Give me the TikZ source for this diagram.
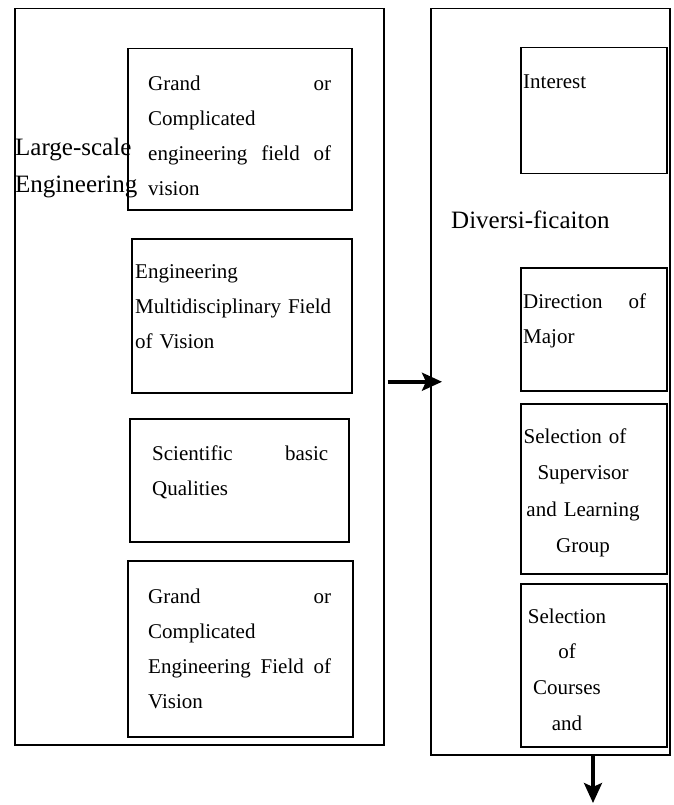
\documentclass[tikz,border=0pt]{standalone}
\usepackage{fontspec}
\setmainfont{Liberation Serif}
\usetikzlibrary{arrows.meta}

\begin{document}
\begin{tikzpicture}[x=1pt, y=-1pt,
    box/.style={draw, line width=1.5pt, anchor=north west, inner sep=0pt},
    txt/.style={anchor=base west, inner sep=0pt, align=left, font=\fontsize{21}{35}\selectfont},
    big/.style={anchor=base west, inner sep=0pt, align=left, font=\fontsize{25}{37}\selectfont},
    arr/.style={line width=3.5pt, -{Stealth[length=20pt, width=18pt, inset=4pt]}}]
    \useasboundingbox (0,0) rectangle (673,805);
    \node[box, minimum width=369pt, minimum height=736pt] (large) at (14,8) {};
    \node[box, minimum width=224pt, minimum height=161pt] (grand) at (127,48) {};
    \node[box, minimum width=220pt, minimum height=154pt] (multi) at (131,238) {};
    \node[box, minimum width=219pt, minimum height=123pt] (basic) at (129,418) {};
    \node[box, minimum width=225pt, minimum height=176pt] (grandtwo) at (127,560) {};
    \node[box, minimum width=239pt, minimum height=746pt] (divers) at (430,8) {};
    \node[box, minimum width=146pt, minimum height=126pt] (interest) at (520,47) {};
    \node[box, minimum width=146pt, minimum height=123pt] (direction) at (520,267) {};
    \node[box, minimum width=146pt, minimum height=170pt] (supervisor) at (520,403) {};
    \node[box, minimum width=146pt, minimum height=163pt] (courses) at (520,583) {};
    \node[big] (largetxt) at (15,193) {Large-scale\\Engineering};
    \node[big] (diverstxt) at (451,228) {Diversi-ficaiton};
    \node[txt, text width=183pt] (grandtxt) at (148,91)
        {Grand\hfill or\\Complicated\\engineering\hfill field\hfill of\\vision};
    \node[txt, text width=197pt] (multitxt) at (135,278)
        {Engineering\\Multidisciplinary Field\\of Vision};
    \node[txt, text width=176pt] (basictxt) at (152,460)
        {Scientific\hfill basic\\Qualities};
    \node[txt, text width=183pt] (grandtwotxt) at (148,603)
        {Grand\hfill or\\Complicated\\Engineering\hfill Field\hfill of\\Vision};
    \node[txt] (interesttxt) at (523,89) {Interest};
    \node[txt, text width=123pt] (directiontxt) at (523,308)
        {Direction\hfill of\\Major};
    \node[txt, anchor=base, text width=130pt, align=center, font=\fontsize{21}{36.5}\selectfont] (supervisortxt) at (583,443)
        {Selection of\hspace*{16pt}\null\\Supervisor\\and Learning\\Group};
    \node[txt, anchor=base, text width=130pt, align=center, font=\fontsize{21}{35.7}\selectfont] (coursestxt) at (567,623)
        {Selection\\of\\Courses\\and};
    \coordinate (next) at (593,803);
    \draw[arr] ([xshift=3pt]large.east |- divers.west) -- ([xshift=12pt]divers.west);
    \draw[arr] (divers.south -| next) -- (next);
\end{tikzpicture}
\end{document}
